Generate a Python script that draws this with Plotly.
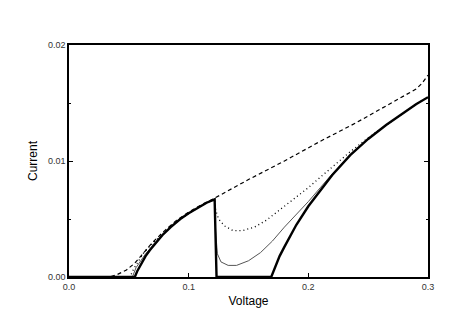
import plotly.graph_objects as go

# thick solid curve
thick_x = [0.0, 0.055, 0.057, 0.06, 0.064, 0.0675, 0.072, 0.078, 0.085, 0.093, 0.1, 0.108, 0.115, 0.1217, 0.1233,
           0.169, 0.172, 0.176, 0.18, 0.185, 0.19, 0.2, 0.21, 0.22, 0.235, 0.25, 0.265, 0.28, 0.29, 0.3]
thick_y = [0.0, 0.0, 0.0005, 0.0011, 0.0018, 0.0023, 0.0029, 0.0036, 0.0043, 0.0050, 0.0055, 0.0060, 0.0064, 0.0067, 0.0,
           0.0, 0.0008, 0.0018, 0.0026, 0.0036, 0.0045, 0.0061, 0.0075, 0.0088, 0.0105, 0.0119, 0.0131, 0.0142, 0.0149, 0.0155]

# dashed curve
dash_x = [0.0, 0.034, 0.04, 0.048, 0.055, 0.062, 0.07, 0.08, 0.09, 0.1, 0.11, 0.1217,
          0.15, 0.18, 0.21, 0.24, 0.27, 0.28, 0.29, 0.295, 0.3]
dash_y = [0.0, 0.0, 0.0002, 0.0006, 0.0012, 0.0020, 0.0030, 0.0040, 0.0049, 0.0056, 0.0062, 0.0068,
          0.0084, 0.0100, 0.0117, 0.0133, 0.0150, 0.0156, 0.0162, 0.0167, 0.0174]

# dotted curve
dot_x = [0.0, 0.051, 0.054, 0.058, 0.0625, 0.067, 0.072, 0.078, 0.085, 0.093, 0.1, 0.108, 0.115, 0.1217,
         0.1225, 0.125, 0.13, 0.137, 0.145, 0.155, 0.165, 0.175, 0.187, 0.2, 0.21, 0.22, 0.235, 0.25,
         0.265, 0.28, 0.29, 0.3]
dot_y = [0.0, 0.0, 0.0007, 0.0014, 0.0021, 0.0026, 0.0031, 0.0037, 0.0044, 0.0050, 0.0055, 0.0060, 0.0064, 0.0067,
         0.0058, 0.0050, 0.0044, 0.0040, 0.0040, 0.0043, 0.0049, 0.0057, 0.0066, 0.0077, 0.0086, 0.0095, 0.0108, 0.0120,
         0.0131, 0.0142, 0.0149, 0.0155]

# thin grey curve
thin_x = [0.0, 0.053, 0.056, 0.06, 0.064, 0.0675, 0.072, 0.078, 0.085, 0.093, 0.1, 0.108, 0.115, 0.1217,
          0.1225, 0.124, 0.127, 0.133, 0.14, 0.15, 0.16, 0.17, 0.18, 0.19, 0.2, 0.21, 0.22, 0.235,
          0.25, 0.265, 0.28, 0.29, 0.3]
thin_y = [0.0, 0.0, 0.0008, 0.0014, 0.0020, 0.0024, 0.0030, 0.0036, 0.0043, 0.0050, 0.0055, 0.0060, 0.0064, 0.0067,
          0.0040, 0.0020, 0.0013, 0.0010, 0.0010, 0.0014, 0.0021, 0.0031, 0.0043, 0.0054, 0.0065, 0.0077, 0.0089, 0.0105,
          0.0119, 0.0131, 0.0142, 0.0149, 0.0155]

fig = go.Figure()

fig.add_trace(go.Scatter(x=thin_x, y=thin_y, mode="lines",
                         line=dict(color="#555555", width=1), showlegend=False))
fig.add_trace(go.Scatter(x=dot_x, y=dot_y, mode="lines",
                         line=dict(color="black", width=1.3, dash="1px,3px"), showlegend=False))
fig.add_trace(go.Scatter(x=dash_x, y=dash_y, mode="lines",
                         line=dict(color="black", width=1.2, dash="4px,3px"), showlegend=False))
fig.add_trace(go.Scatter(x=thick_x, y=thick_y, mode="lines",
                         line=dict(color="black", width=2.4), showlegend=False))

# page body has an 8px margin, so offsets are trimmed by that
fig.update_layout(
    width=471, height=327,
    margin=dict(l=61, r=51, t=37, b=58),
    plot_bgcolor="white", paper_bgcolor="white",
    font=dict(family="Liberation Sans, Arial, sans-serif", color="black"),
    xaxis=dict(
        range=[0, 0.3], tickvals=[0, 0.1, 0.2, 0.3], ticktext=["0.0", "0.1", "0.2", "0.3"],
        ticks="inside", ticklen=4, tickcolor="black",
        showline=True, linecolor="black", linewidth=1.5, mirror=True,
        showgrid=False, zeroline=False,
        tickfont=dict(size=9, color="#333333"),
        title=dict(text="Voltage", font=dict(size=12), standoff=6),
    ),
    yaxis=dict(
        range=[0, 0.02], tickvals=[0, 0.01, 0.02], ticktext=["0.00", "0.01", "0.02"],
        ticks="inside", ticklen=4, tickcolor="black",
        minor=dict(ticks="inside", ticklen=2, dtick=0.005, tickcolor="black"),
        showline=True, linecolor="black", linewidth=1.5, mirror="ticks",
        showgrid=False, zeroline=False,
        tickfont=dict(size=9, color="#333333"),
        title=dict(text="Current", font=dict(size=12), standoff=8),
    ),
)

fig.write_html("out.html")
